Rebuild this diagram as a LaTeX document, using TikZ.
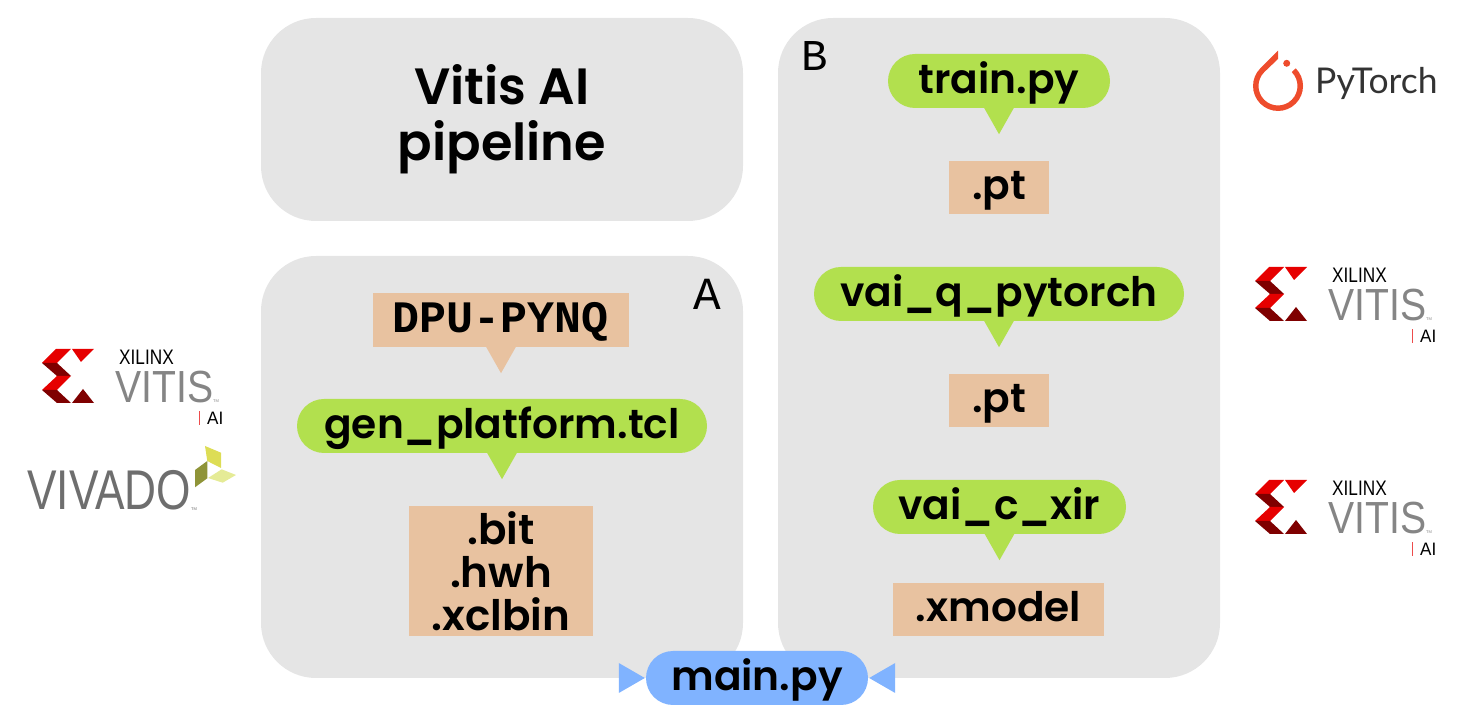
\documentclass[tikz,border=0pt]{standalone}
\usepackage{fontspec}
\setmainfont{Poppins}[BoldFont={Poppins SemiBold}]
\newfontfamily\monofont{Liberation Mono}
\newfontfamily\logofont{Liberation Sans}
\usetikzlibrary{positioning,calc}

\definecolor{panelgray}{HTML}{E5E5E5}
\definecolor{toolgreen}{HTML}{B2E04E}
\definecolor{filetan}{HTML}{E8C2A0}
\definecolor{mainblue}{HTML}{80B3FF}
\definecolor{xred}{HTML}{E60000}
\definecolor{xdark}{HTML}{7F0000}
\definecolor{torchred}{HTML}{EE4C2C}
\definecolor{leafyellow}{HTML}{DDDD55}
\definecolor{leafolive}{HTML}{8F9438}
\definecolor{leaflight}{HTML}{E5EB96}

\tikzset{
    panel/.style={fill=panelgray, rounded corners=55pt, inner sep=0pt, align=center},
    tool/.style={fill=toolgreen, rounded corners=27pt, minimum height=54pt, inner sep=0pt, text height=30pt, text depth=5pt, font=\fontsize{40.7}{43}\selectfont\bfseries},
    file/.style={fill=filetan, minimum height=53pt, inner sep=0pt, text height=30pt, text depth=5pt, font=\fontsize{40.7}{43}\selectfont\bfseries},
    logotext/.style={inner sep=0pt, anchor=base west},
    pics/vitislogo/.style={code={
        \fill[xred] (0,40) -- (14,54) -- (29,54) -- (15,40) -- cycle;
        \fill[xdark] (0,40) -- (15,40) -- (29,27) -- (15,27) -- cycle;
        \fill[xred] (0,13) -- (15,27) -- (29,27) -- (15,13) -- cycle;
        \fill[xdark] (0,13) -- (15,13) -- (29,0) -- (15,0) -- cycle;
        \fill[xred] (30,54) -- (52,54) -- (39,41) -- cycle;
        \fill[xdark] (30,0) -- (52,0) -- (41,14) -- cycle;
        \node[logotext] at (77,38) {\logofont\fontsize{21}{21}\selectfont\scalebox{0.82}[1]{XILINX}};
        \node[logotext, text=black!48] at (73,0) {\logofont\fontsize{45}{45}\selectfont\scalebox{0.87}[1]{VITIS}};
        \node[logotext, text=black!48] at (171,0) {\logofont\fontsize{4}{4}\selectfont TM};
        \fill[xred!70] (156.5,-22) rectangle (157.5,-8);
        \node[logotext] at (165,-22) {\logofont\fontsize{18}{18}\selectfont\scalebox{0.95}[1]{AI}};
    }}
}

\newcommand{\droptip}[2]{
    \fill[#2] ($(#1.south)+(-15,0.5)$) -- ($(#1.south)+(15,0.5)$) -- ($(#1.south)+(0,-26)$) -- cycle;
}

\begin{document}
\begin{tikzpicture}[x=1pt,y=1pt]
    \useasboundingbox (0,0) rectangle (1475,725);

    % Panels
    \node[panel, minimum width=482pt, minimum height=203pt, font=\fontsize{51}{56}\selectfont\bfseries] (pipeline) at (502,605.5) {Vitis AI\\pipeline};
    \node[panel, minimum width=482pt, minimum height=422pt] (panelA) at (502,258) {};
    \node[panel, minimum width=442pt, minimum height=660pt] (panelB) at (999,377) {};
    \node[inner sep=0pt, font=\monofont\fontsize{46}{46}\selectfont] (labelA) at (707,431) {A};
    \node[inner sep=0pt, font=\monofont\fontsize{44}{44}\selectfont] (labelB) at (815,669) {B};

    % Panel A
    \node[file, minimum width=256pt, minimum height=54pt, font=\monofont\fontsize{45}{45}\selectfont\bfseries] (dpu) at (501,405) {DPU-PYNQ};
    \node[tool, minimum width=410pt] (genplatform) at (502,299) {gen\_platform.tcl};
    \node[file, minimum width=184pt, minimum height=130pt, align=center, text height=, text depth=, font=\fontsize{42}{43}\selectfont\bfseries] (bitfiles) at (501,154) {.bit\\.hwh\\.xclbin};

    % Panel B
    \node[tool, minimum width=222pt] (train) at (999,644) {train.py};
    \node[file, minimum width=100pt] (ptA) at (999,537.5) {.pt};
    \node[tool, minimum width=370pt] (vaiq) at (999,431) {vai\_q\_pytorch};
    \node[file, minimum width=100pt] (ptB) at (999,324.5) {.pt};
    \node[tool, minimum width=253pt] (vaic) at (999.5,218) {vai\_c\_xir};
    \node[file, minimum width=211pt] (xmodel) at (998.5,115.5) {.xmodel};

    % Main script
    \node[tool, fill=mainblue, minimum width=222pt] (main) at (757,47) {main.py};

    % Pointers
    \droptip{dpu}{filetan}
    \droptip{genplatform}{toolgreen}
    \droptip{train}{toolgreen}
    \droptip{vaiq}{toolgreen}
    \droptip{vaic}{toolgreen}
    \fill[mainblue] ($(main.west)+(-1,0)$) -- ($(main.west)+(-27,15)$) -- ($(main.west)+(-27,-15)$) -- cycle;
    \fill[mainblue] ($(main.east)+(1,0)$) -- ($(main.east)+(27,15)$) -- ($(main.east)+(27,-15)$) -- cycle;

    % Logos
    \pic at (42,322) {vitislogo};
    \pic at (1255,404) {vitislogo};
    \pic at (1255,191) {vitislogo};

    \node[logotext, text=black!57] (vivado) at (27,215) {\logofont\fontsize{56}{56}\selectfont\scalebox{0.79}[1]{VIVADO}};
    \node[logotext, text=black!57] (vivadotm) at (191,214) {\logofont\fontsize{4}{4}\selectfont TM};
    \fill[leafyellow] (205,279) -- (221,272.3) -- (221,257) -- (207.3,264) -- cycle;
    \fill[leafolive] (195,255) -- (207.3,264) -- (207.3,246.7) -- (195,237.7) -- cycle;
    \fill[leaflight] (208,247) -- (221.7,255.7) -- (236,250) -- (222.7,242.3) -- cycle;

    \fill[torchred] (1295.7,656.7) arc[start angle=45, delta angle=-270, radius=25] -- (1278,674.3) -- (1278,666) -- (1264.2,652.8) arc[start angle=135, delta angle=270, radius=19.5] -- cycle;
    \fill[torchred] (1286.7,661.7) circle (3.5);
    \node[logotext, text=black!80] (pytorch) at (1315,631) {\fontspec{Lato}\fontsize{35.5}{36}\selectfont PyTorch};
\end{tikzpicture}
\end{document}
